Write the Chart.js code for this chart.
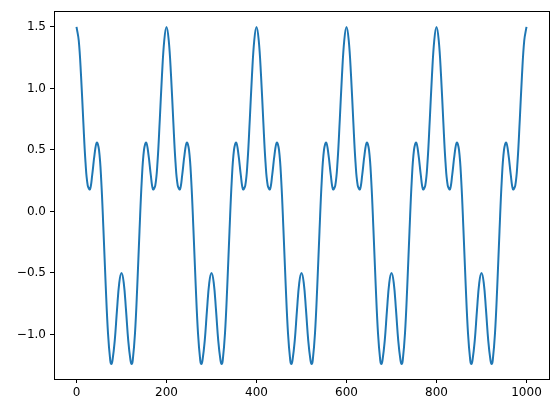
<!DOCTYPE html>
<html>
<head>
<meta charset="utf-8">
<script src="https://cdn.jsdelivr.net/npm/chart.js@4/dist/chart.umd.min.js"></script>
<style>
  html, body { margin: 0; padding: 0; background: #fff; }
  #wrap { width: 559px; height: 413px; }
</style>
</head>
<body>
<div id="wrap"><canvas id="myChart" width="559" height="413"></canvas></div>
<script>
// sample positions along x (extra samples at the deep troughs)
const xs = [
  0, 5, 10, 15, 20, 25, 30, 35, 40, 45, 50, 55, 60, 65, 70, 75, 77.5, 80, 85, 90, 95,
  100, 105, 110, 115, 120, 122.5, 125, 130, 135, 140, 145, 150, 155, 160, 165, 170, 175, 180, 185, 190, 195,
  200, 205, 210, 215, 220, 225, 230, 235, 240, 245, 250, 255, 260, 265, 270, 275, 277.5, 280, 285, 290, 295,
  300, 305, 310, 315, 320, 322.5, 325, 330, 335, 340, 345, 350, 355, 360, 365, 370, 375, 380, 385, 390, 395,
  400, 405, 410, 415, 420, 425, 430, 435, 440, 445, 450, 455, 460, 465, 470, 475, 477.5, 480, 485, 490, 495,
  500, 505, 510, 515, 520, 522.5, 525, 530, 535, 540, 545, 550, 555, 560, 565, 570, 575, 580, 585, 590, 595,
  600, 605, 610, 615, 620, 625, 630, 635, 640, 645, 650, 655, 660, 665, 670, 675, 677.5, 680, 685, 690, 695,
  700, 705, 710, 715, 720, 722.5, 725, 730, 735, 740, 745, 750, 755, 760, 765, 770, 775, 780, 785, 790, 795,
  800, 805, 810, 815, 820, 825, 830, 835, 840, 845, 850, 855, 860, 865, 870, 875, 877.5, 880, 885, 890, 895,
  900, 905, 910, 915, 920, 922.5, 925, 930, 935, 940, 945, 950, 955, 960, 965, 970, 975, 980, 985, 990, 995,
  1000
]

// values
const ys = [
  1.5, 1.39, 1.11, 0.74, 0.4, 0.21, 0.18, 0.3, 0.46, 0.56, 0.5, 0.25, -0.16, -0.61, -0.99, -1.21, -1.24, -1.21, -1.05, -0.8, -0.58,
  -0.5, -0.58, -0.8, -1.05, -1.21, -1.24, -1.21, -0.99, -0.61, -0.16, 0.25, 0.5, 0.56, 0.46, 0.3, 0.18, 0.21, 0.4, 0.74, 1.11, 1.39,
  1.5, 1.39, 1.11, 0.74, 0.4, 0.21, 0.18, 0.3, 0.46, 0.56, 0.5, 0.25, -0.16, -0.61, -0.99, -1.21, -1.24, -1.21, -1.05, -0.8, -0.58,
  -0.5, -0.58, -0.8, -1.05, -1.21, -1.24, -1.21, -0.99, -0.61, -0.16, 0.25, 0.5, 0.56, 0.46, 0.3, 0.18, 0.21, 0.4, 0.74, 1.11, 1.39,
  1.5, 1.39, 1.11, 0.74, 0.4, 0.21, 0.18, 0.3, 0.46, 0.56, 0.5, 0.25, -0.16, -0.61, -0.99, -1.21, -1.24, -1.21, -1.05, -0.8, -0.58,
  -0.5, -0.58, -0.8, -1.05, -1.21, -1.24, -1.21, -0.99, -0.61, -0.16, 0.25, 0.5, 0.56, 0.46, 0.3, 0.18, 0.21, 0.4, 0.74, 1.11, 1.39,
  1.5, 1.39, 1.11, 0.74, 0.4, 0.21, 0.18, 0.3, 0.46, 0.56, 0.5, 0.25, -0.16, -0.61, -0.99, -1.21, -1.24, -1.21, -1.05, -0.8, -0.58,
  -0.5, -0.58, -0.8, -1.05, -1.21, -1.24, -1.21, -0.99, -0.61, -0.16, 0.25, 0.5, 0.56, 0.46, 0.3, 0.18, 0.21, 0.4, 0.74, 1.11, 1.39,
  1.5, 1.39, 1.11, 0.74, 0.4, 0.21, 0.18, 0.3, 0.46, 0.56, 0.5, 0.25, -0.16, -0.61, -0.99, -1.21, -1.24, -1.21, -1.05, -0.8, -0.58,
  -0.5, -0.58, -0.8, -1.05, -1.21, -1.24, -1.21, -0.99, -0.61, -0.16, 0.25, 0.5, 0.56, 0.46, 0.3, 0.18, 0.21, 0.4, 0.74, 1.11, 1.39,
  1.5
]

const xTicks = [0, 200, 400, 600, 800, 1000]
const yTicks = [-1.0, -0.5, 0.0, 0.5, 1.0, 1.5]

const ctx = document.getElementById('myChart').getContext('2d')

// frame round the plot area, like matplotlib spines
const frame = {
  id: 'frame',
  afterDatasetsDraw(chart) {
    const a = chart.chartArea
    const c = chart.ctx
    c.save()
    c.strokeStyle = '#000'
    c.lineWidth = 1
    c.strokeRect(Math.round(a.left) + 0.5, Math.round(a.top) + 0.5,
      Math.round(a.right - a.left), Math.round(a.bottom - a.top))
    c.restore()
  }
}

const tickFont = { family: 'DejaVu Sans', size: 12 }
const minus = v => v.replace('-', '\u2212')

new Chart(ctx, {
  type: 'line',
  data: {
    datasets: [{
      data: xs.map((x, i) => ({ x: x, y: ys[i] })),
      borderColor: '#1f77b4',
      borderWidth: 2,
      pointRadius: 0,
      tension: 0.4,
      fill: false
    }]
  },
  plugins: [frame],
  options: {
    responsive: false,
    animation: false,
    layout: { padding: { left: 0, top: 10, right: 10, bottom: 0 } },
    plugins: { legend: { display: false }, tooltip: { enabled: false } },
    scales: {
      x: {
        type: 'linear',
        min: -50,
        max: 1050,
        afterBuildTicks: s => { s.ticks = xTicks.map(v => ({ value: v })) },
        afterFit: s => { s.height = 34 },
        border: { display: false },
        grid: { drawOnChartArea: false, drawTicks: true, tickLength: 4, color: '#000' },
        ticks: {
          color: '#000',
          font: tickFont,
          padding: 3,
          maxRotation: 0,
          callback: v => minus(String(v))
        }
      },
      y: {
        type: 'linear',
        min: -1.362,
        max: 1.628,
        afterBuildTicks: s => { s.ticks = yTicks.map(v => ({ value: v })) },
        afterFit: s => { s.width = 54 },
        border: { display: false },
        grid: { drawOnChartArea: false, drawTicks: true, tickLength: 4, color: '#000' },
        ticks: {
          color: '#000',
          font: tickFont,
          padding: 4,
          callback: v => minus(Number(v).toFixed(1))
        }
      }
    }
  }
})
</script>
</body>
</html>
